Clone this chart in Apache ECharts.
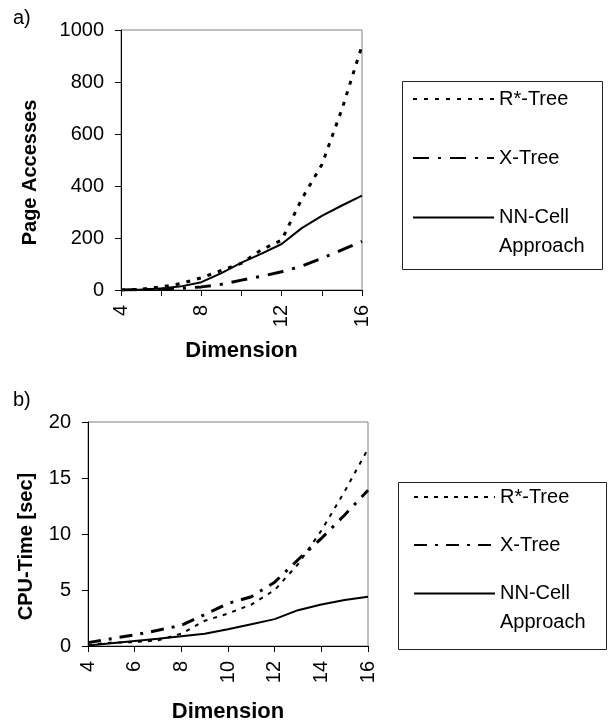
<!DOCTYPE html>
<html>
<head>
<meta charset="utf-8">
<script src="https://cdn.jsdelivr.net/npm/echarts@6/dist/echarts.min.js"></script>
<style>
  html, body { margin: 0; padding: 0; background: #fff; }
  #c1 { position: absolute; left: 0; top: 0; width: 610px; height: 361px; }
  #c2 { position: absolute; left: 0; top: 361px; width: 610px; height: 361px; }
</style>
</head>
<body>
<div id="c1"></div>
<div id="c2"></div>
<script>
// ---- data ----
const dims = [4, 5, 6, 7, 8, 9, 10, 11, 12, 13, 14, 15, 16];
const seriesNames = ['R*-Tree', 'X-Tree', 'NN-Cell Approach'];
// a) Page Accesses
const rstarPage = [0, 3, 12, 25, 47, 75, 103, 155, 192, 350, 482, 695, 940];
const xtreePage = [0, 1, 3, 6, 12, 22, 38, 53, 70, 92, 122, 154, 187];
const nncellPage = [0, 2, 6, 14, 30, 65, 105, 140, 177, 238, 285, 325, 363];
// b) CPU-Time [sec]
const rstarCpu = [0.1, 0.3, 0.35, 0.5, 1.1, 2.25, 2.9, 3.7, 5.0, 7.3, 10.3, 13.8, 17.6];
const xtreeCpu = [0.3, 0.65, 1.0, 1.4, 1.85, 2.8, 3.8, 4.4, 5.7, 7.7, 9.6, 11.7, 13.9];
const nncellCpu = [0.05, 0.25, 0.45, 0.65, 0.88, 1.1, 1.5, 1.95, 2.4, 3.2, 3.7, 4.1, 4.4];
// tick labels
const pageTicks = [0, 200, 400, 600, 800, 1000];
const cpuTicks = [0, 5, 10, 15, 20];
const dimLabelsA = [4, 8, 12, 16];
const dimLabelsB = [4, 6, 8, 10, 12, 14, 16];

const FONT = '"Liberation Sans", Arial, sans-serif';
const pairs = arr => dims.map((d, i) => [d, arr[i]]);

function buildOption(cfg) {
  const line = (name, data, type, width) => ({
    name: name, type: 'line', data: pairs(data), symbol: 'none', smooth: false,
    lineStyle: { color: '#000', width: width, type: type, cap: 'butt' },
    itemStyle: { color: '#000' },
    emphasis: { disabled: true }, silent: true, animation: false
  });
  return {
    animation: false,
    backgroundColor: '#fff',
    textStyle: { fontFamily: FONT, color: '#000' },
    title: {
      text: cfg.panel, left: 13, top: cfg.panelTop, padding: 0,
      textStyle: { fontFamily: FONT, fontSize: 20, fontWeight: 'normal', color: '#000' }
    },
    grid: {
      left: cfg.grid.left, top: cfg.grid.top, width: cfg.grid.width, height: cfg.grid.height,
      show: true, borderColor: '#808080', borderWidth: 1, backgroundColor: 'transparent',
      containLabel: false, outerBoundsMode: 'none'
    },
    xAxis: {
      type: 'value', min: 4, max: 16, interval: 2,
      name: 'Dimension', nameLocation: 'middle', nameGap: cfg.xNameGap, nameMoveOverlap: false,
      nameTextStyle: { fontFamily: FONT, fontSize: 22, fontWeight: 'bold', color: '#000' },
      axisLine: { show: true, onZero: false, lineStyle: { color: '#000', width: 1 } },
      axisTick: { show: true, length: 6, lineStyle: { color: '#000', width: 1 } },
      axisLabel: {
        rotate: 90, margin: 15, fontSize: 20, fontFamily: FONT, color: '#000',
        formatter: v => (cfg.xLabels.indexOf(v) >= 0 ? String(v) : '')
      },
      splitLine: { show: false }
    },
    yAxis: {
      type: 'value', min: cfg.yTicks[0], max: cfg.yTicks[cfg.yTicks.length - 1],
      interval: cfg.yTicks[1] - cfg.yTicks[0],
      name: cfg.yName, nameLocation: 'middle', nameRotate: 90, nameGap: cfg.yNameGap, nameMoveOverlap: false,
      nameTextStyle: { fontFamily: FONT, fontSize: 20, fontWeight: 'bold', color: '#000', padding: [0, 25, 0, 0] },
      axisLine: { show: true, onZero: false, lineStyle: { color: '#000', width: 1 } },
      axisTick: { show: true, length: 6, lineStyle: { color: '#000', width: 1 } },
      axisLabel: { margin: 17, fontSize: 20, fontFamily: FONT, color: '#000', formatter: v => String(v) },
      splitLine: { show: false }
    },
    legend: {
      orient: 'vertical', left: cfg.legend.left, top: cfg.legend.top, padding: 0,
      itemGap: cfg.legend.gap, itemWidth: 81, itemHeight: 14, selectedMode: false,
      data: seriesNames,
      itemStyle: { color: 'rgba(0,0,0,0)', borderColor: 'rgba(0,0,0,0)', borderWidth: 0, opacity: 0 },
      formatter: name => (name === 'NN-Cell Approach' ? '{a|NN-Cell}\n{b|Approach}' : name),
      textStyle: {
        fontFamily: FONT, fontSize: 20, color: '#000', lineHeight: cfg.legend.lh,
        rich: {
          a: { fontFamily: FONT, fontSize: 20, color: '#000', lineHeight: cfg.legend.lh },
          b: { fontFamily: FONT, fontSize: 20, color: '#000', lineHeight: 1 }
        }
      }
    },
    graphic: [{
      type: 'rect', silent: true,
      shape: { x: cfg.box.x + 0.5, y: cfg.box.y + 0.5, width: cfg.box.w, height: cfg.box.h },
      style: { fill: 'none', stroke: '#222', lineWidth: 1 }
    }],
    series: [
      line(seriesNames[0], cfg.data[0], cfg.styles[0].type, cfg.styles[0].width),
      line(seriesNames[1], cfg.data[1], cfg.styles[1].type, cfg.styles[1].width),
      line(seriesNames[2], cfg.data[2], 'solid', cfg.styles[2].width)
    ]
  };
}

const chartA = echarts.init(document.getElementById('c1'), null, { renderer: 'canvas' });
chartA.setOption(buildOption({
  panel: 'a)', panelTop: 8,
  grid: { left: 121, top: 30, width: 241, height: 260 },
  xNameGap: 50, xLabels: dimLabelsA,
  yName: 'Page Accesses', yNameGap: 81, yTicks: pageTicks,
  legend: { left: 412, top: 70, gap: 1, lh: 58 },
  box: { x: 402, y: 81, w: 200, h: 188 },
  data: [rstarPage, xtreePage, nncellPage],
  styles: [{ type: [4, 7], width: 3 }, { type: [16, 9, 3, 9], width: 3 }, { width: 2 }]
}));

const chartB = echarts.init(document.getElementById('c2'), null, { renderer: 'canvas' });
chartB.setOption(buildOption({
  panel: 'b)', panelTop: 29,
  grid: { left: 88, top: 61, width: 280, height: 224 },
  xNameGap: 55, xLabels: dimLabelsB,
  yName: 'CPU-Time [sec]', yNameGap: 52, yTicks: cpuTicks,
  legend: { left: 413, top: 107, gap: -10, lh: 58 },
  box: { x: 398, y: 121, w: 208, h: 167 },
  data: [rstarCpu, xtreeCpu, nncellCpu],
  styles: [{ type: [4, 6], width: 2 }, { type: [13, 8, 3, 8], width: 3 }, { width: 2 }]
}));
</script>
</body>
</html>
